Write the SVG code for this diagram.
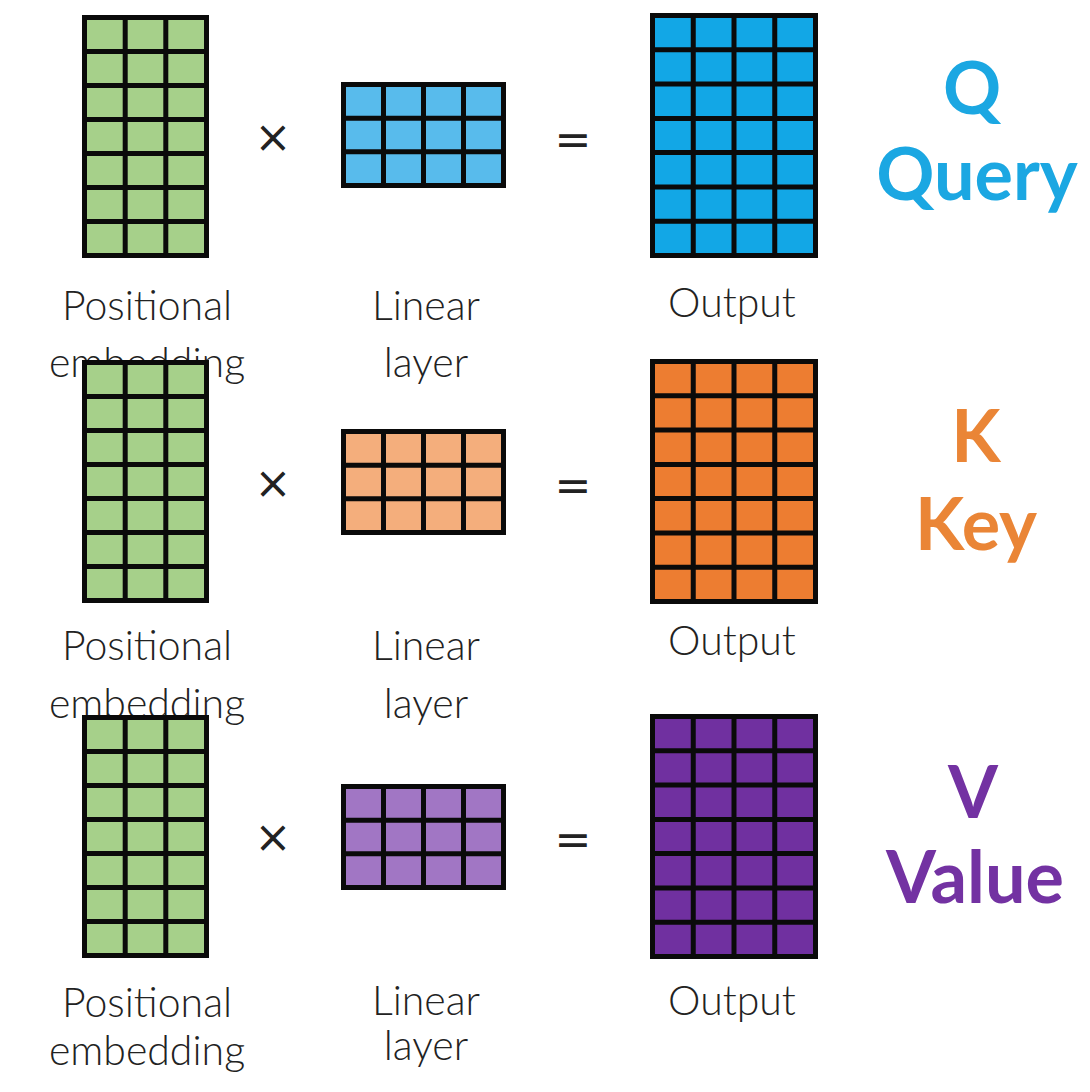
<svg xmlns="http://www.w3.org/2000/svg" xmlns:xlink="http://www.w3.org/1999/xlink" width="1090" height="1092" viewBox="0 0 1090 1092">
  <style>
    .grid { fill: none; stroke: #0a0a0a; stroke-width: 5; }
    .frame { stroke: #0a0a0a; stroke-width: 5; }
    .pe { fill: #a6d08a; }
    .linQ { fill: #58bbec; }
    .outQ { fill: #12a7e6; }
    .linK { fill: #f4ae7c; }
    .outK { fill: #ed7d31; }
    .linV { fill: #a176c4; }
    .outV { fill: #7030a0; }
    .lbl { font-family: Lato, "Open Sans", "Liberation Sans", sans-serif; font-weight: 300; font-size: 41px; fill: #222; text-anchor: middle; }
    .op { font-family: "DejaVu Sans", "Liberation Sans", sans-serif; font-size: 44px; fill: #222; text-anchor: middle; }
    .big { font-family: Lato, "Open Sans", "Liberation Sans", sans-serif; font-weight: 700; font-size: 72px; text-anchor: middle; }
    .q { fill: #1ba7e2; }
    .k { fill: #ea8536; }
    .v { fill: #7332a2; }
  </style>
  <defs>
    <path id="gridPE" class="grid" d="M43.2 2.5V240.5M83.8 2.5V240.5M2.5 36.5H124.5M2.5 70.5H124.5M2.5 104.5H124.5M2.5 138.5H124.5M2.5 172.5H124.5M2.5 206.5H124.5"/>
    <path id="gridLin" class="grid" d="M42.5 2.5V103.5M82.5 2.5V103.5M122.5 2.5V103.5M2.5 36.2H162.5M2.5 69.8H162.5"/>
    <path id="gridOut" class="grid" d="M43.25 2.5V242.5M84 2.5V242.5M124.75 2.5V242.5M2.5 36.8H165.5M2.5 71.1H165.5M2.5 105.4H165.5M2.5 139.6H165.5M2.5 173.9H165.5M2.5 208.2H165.5"/>
  </defs>
  <rect width="1090" height="1092" fill="#ffffff"/>

  <!-- Row Q -->
  <g id="pe-q" transform="translate(82,15)">
    <rect class="pe frame" x="2.5" y="2.5" width="122" height="238"/>
    <use xlink:href="#gridPE"/>
  </g>
  <g id="lin-q" transform="translate(341,82)">
    <rect class="linQ frame" x="2.5" y="2.5" width="160" height="101"/>
    <use xlink:href="#gridLin"/>
  </g>
  <g id="out-q" transform="translate(650,13)">
    <rect class="outQ frame" x="2.5" y="2.5" width="163" height="240"/>
    <use xlink:href="#gridOut"/>
  </g>
  <g id="ops-q">
    <text class="op" x="273" y="152">×</text>
    <text class="op" x="573" y="155">=</text>
  </g>
  <g id="labels-q">
    <text class="lbl" x="147" y="320">Positional</text>
    <text class="lbl" x="147" y="377">embedding</text>
    <text class="lbl" x="426" y="320">Linear</text>
    <text class="lbl" x="426" y="377">layer</text>
    <text class="lbl" x="732" y="317">Output</text>
  </g>
  <g id="title-q">
    <text class="big q" x="972" y="114">Q</text>
    <text class="big q" x="977" y="200">Query</text>
  </g>

  <!-- Row K -->
  <g id="pe-k" transform="translate(82,360)">
    <rect class="pe frame" x="2.5" y="2.5" width="122" height="238"/>
    <use xlink:href="#gridPE"/>
  </g>
  <g id="lin-k" transform="translate(341,429)">
    <rect class="linK frame" x="2.5" y="2.5" width="160" height="101"/>
    <use xlink:href="#gridLin"/>
  </g>
  <g id="out-k" transform="translate(650,359)">
    <rect class="outK frame" x="2.5" y="2.5" width="163" height="240"/>
    <use xlink:href="#gridOut"/>
  </g>
  <g id="ops-k">
    <text class="op" x="273" y="498">×</text>
    <text class="op" x="573" y="501">=</text>
  </g>
  <g id="labels-k">
    <text class="lbl" x="147" y="660">Positional</text>
    <text class="lbl" x="147" y="718">embedding</text>
    <text class="lbl" x="426" y="660">Linear</text>
    <text class="lbl" x="426" y="718">layer</text>
    <text class="lbl" x="732" y="655">Output</text>
  </g>
  <g id="title-k">
    <text class="big k" x="976" y="462">K</text>
    <text class="big k" x="976" y="550">Key</text>
  </g>

  <!-- Row V -->
  <g id="pe-v" transform="translate(82,715)">
    <rect class="pe frame" x="2.5" y="2.5" width="122" height="238"/>
    <use xlink:href="#gridPE"/>
  </g>
  <g id="lin-v" transform="translate(341,784)">
    <rect class="linV frame" x="2.5" y="2.5" width="160" height="101"/>
    <use xlink:href="#gridLin"/>
  </g>
  <g id="out-v" transform="translate(650,714)">
    <rect class="outV frame" x="2.5" y="2.5" width="163" height="240"/>
    <use xlink:href="#gridOut"/>
  </g>
  <g id="ops-v">
    <text class="op" x="273" y="852">×</text>
    <text class="op" x="573" y="855">=</text>
  </g>
  <g id="labels-v">
    <text class="lbl" x="147" y="1017">Positional</text>
    <text class="lbl" x="147" y="1065">embedding</text>
    <text class="lbl" x="426" y="1015">Linear</text>
    <text class="lbl" x="426" y="1060">layer</text>
    <text class="lbl" x="732" y="1015">Output</text>
  </g>
  <g id="title-v">
    <text class="big v" x="973" y="818">V</text>
    <text class="big v" x="975" y="903">Value</text>
  </g>

  <g id="connectors"></g>
</svg>
